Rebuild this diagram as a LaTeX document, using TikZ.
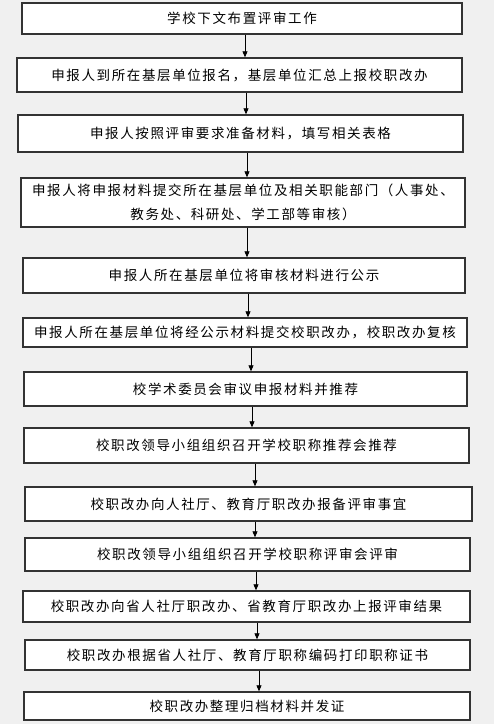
\documentclass[tikz,border=0pt]{standalone}
\usepackage{fontspec}
\newfontfamily\cjk{Noto Sans CJK SC}[LetterSpace=12]
\usetikzlibrary{arrows.meta}
\definecolor{bg}{HTML}{F0F0F0}
\definecolor{bd}{HTML}{333333}
\begin{document}
\begin{tikzpicture}[x=1pt,y=-1pt,
  stepbox/.style={draw=bd,line width=1.4pt,fill=white,inner sep=0pt,
    font=\cjk\fontsize{13.5pt}{24pt}\selectfont,align=center},
  arr/.style={draw=black,line width=0.8pt,-{Triangle[length=6pt,width=5pt]}}]
\fill[bg] (0,0) rectangle (494,724);
\useasboundingbox (0,0) rectangle (494,724);
\newcommand{\bx}[6]{%
  \node[stepbox,minimum width={#3-#2},minimum height={#5-#4}] (#1) at ({(#2+#3)/2},{(#4+#5)/2}) {#6};}
\bx{b1}{22}{462}{3}{34}{学校下文布置评审工作}
\bx{b2}{17}{462}{58}{92}{申报人到所在基层单位报名，基层单位汇总上报校职改办}
\bx{b3}{18}{463}{115}{152}{申报人按照评审要求准备材料，填写相关表格}
\bx{b4}{21}{465}{178}{227}{申报人将申报材料提交所在基层单位及相关职能部门（人事处、\\教务处、科研处、学工部等审核）}
\bx{b5}{23}{465}{258}{293}{申报人所在基层单位将审核材料进行公示}
\bx{b6}{23}{467}{318}{347}{申报人所在基层单位将经公示材料提交校职改办，校职改办复核}
\bx{b7}{24}{467}{372}{406}{校学术委员会审议申报材料并推荐}
\bx{b8}{24}{469}{428}{463}{校职改领导小组组织召开学校职称推荐会推荐}
\bx{b9}{25}{472}{487}{521}{校职改办向人社厅、教育厅职改办报备评审事宜}
\bx{b10}{25}{470}{538}{571}{校职改领导小组组织召开学校职称评审会评审}
\bx{b11}{23}{470}{591}{622}{校职改办向省人社厅职改办、省教育厅职改办上报评审结果}
\bx{b12}{25}{470}{640}{670}{校职改办根据省人社厅、教育厅职称编码打印职称证书}
\bx{b13}{24}{470}{692}{720}{校职改办整理归档材料并发证}
\newcommand{\ar}[3]{\coordinate (t#1) at (#3,0); \draw[arr] (b#1.south -| t#1) -- (b#2.north -| t#1);}
\ar{1}{2}{245}
\ar{2}{3}{246}
\ar{3}{4}{247}
\ar{4}{5}{247}
\ar{5}{6}{248}
\ar{6}{7}{251}
\ar{7}{8}{252}
\ar{8}{9}{255}
\ar{9}{10}{255}
\ar{10}{11}{256}
\ar{11}{12}{257}
\ar{12}{13}{259}
\end{tikzpicture}
\end{document}
